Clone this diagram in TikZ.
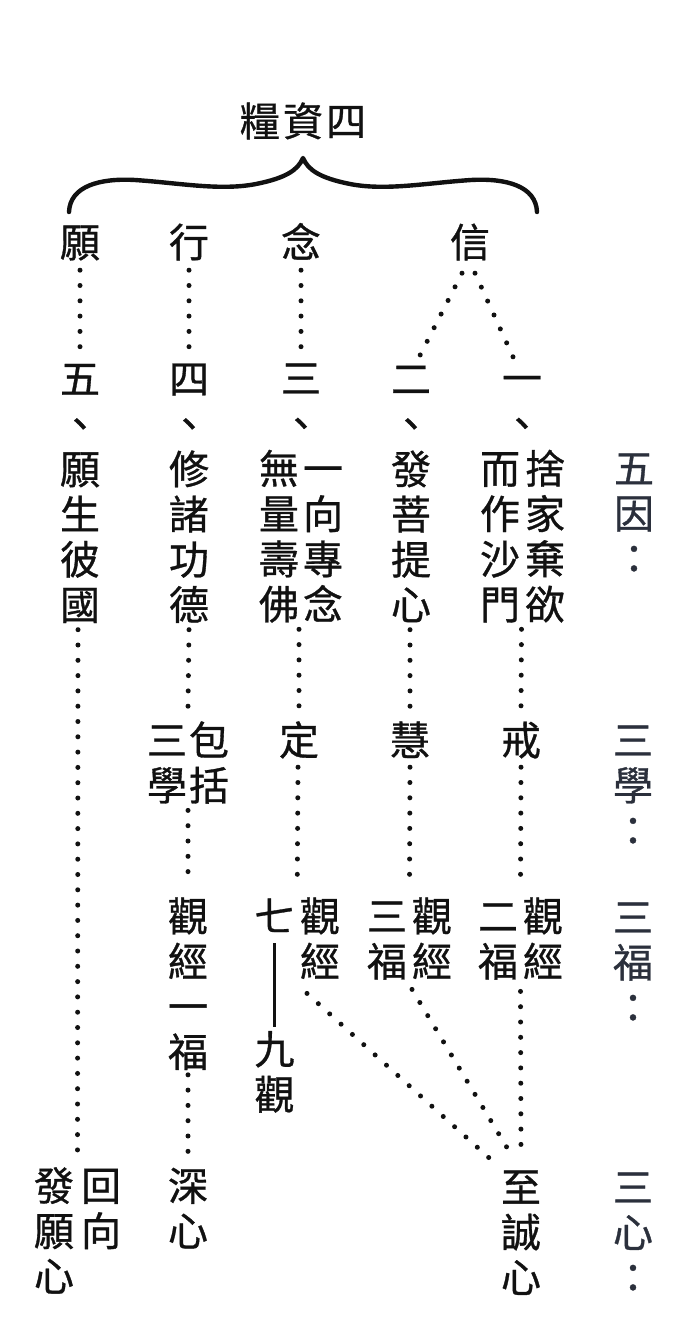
\documentclass[tikz,border=0pt]{standalone}
\usepackage{fontspec}
\newfontfamily\cjk{Noto Sans CJK TC}[FakeBold=0.8]
\usetikzlibrary{calc}
\newcommand\Sx{\rule[-0.12em]{0pt}{1em}}
\definecolor{ink}{HTML}{111111}
\definecolor{side}{HTML}{2B303C}
\tikzset{
  cjk/.style={font=\cjk\fontsize{40}{45.2}\selectfont, inner sep=0pt, align=center, text=ink},
  sidecol/.style={cjk, text=side},
  dotline/.style={draw=ink, line width=5pt, line cap=round, dash pattern=on 0pt off 15.3pt},
  dashline/.style={draw=ink, line width=2.2pt},
  bracestyle/.style={draw=ink, line width=4.4pt, line cap=round, line join=round}
}
\begin{document}
\begin{tikzpicture}[x=1pt,y=-1pt]
\fill[white] (0,0) rectangle (700,1340);
\useasboundingbox (0,0) rectangle (700,1340);

% title and brace
\node[cjk] (t) at (303,121) {\Sx 糧\hspace{3pt}資\hspace{3pt}四};
\draw[bracestyle] (69,212) .. controls (70,186) and (100,178) .. (135,180)
  .. controls (180,183) and (220,191) .. (256,184)
  .. controls (286,178) and (298,170) .. (303,158)
  .. controls (308,170) and (320,178) .. (350,184)
  .. controls (386,191) and (426,183) .. (471,180)
  .. controls (506,178) and (536,186) .. (537,212);

% top row
\node[cjk] (wA) at (80,242) {\Sx 願};
\node[cjk] (wB) at (189,242) {\Sx 行};
\node[cjk] (wC) at (301,242) {\Sx 念};
\node[cjk] (wD) at (470,242) {\Sx 信};

% five causes
\node[cjk] (cA) at (80,491.5) {\Sx 五\\\Sx 、\\\Sx 願\\\Sx 生\\\Sx 彼\\\Sx 國};
\node[cjk] (cB) at (189,491.5) {\Sx 四\\\Sx 、\\\Sx 修\\\Sx 諸\\\Sx 功\\\Sx 德};
\node[cjk] (cC) at (301,400.6) {\Sx 三\\\Sx 、};
\node[cjk] (cCr) at (323,536.3) {\Sx 一\\\Sx 向\\\Sx 專\\\Sx 念};
\node[cjk] (cCl) at (279,536.3) {\Sx 無\\\Sx 量\\\Sx 壽\\\Sx 佛};
\node[cjk] (cD) at (411,491.5) {\Sx 二\\\Sx 、\\\Sx 發\\\Sx 菩\\\Sx 提\\\Sx 心};
\node[cjk] (cE) at (522,400.6) {\Sx 一\\\Sx 、};
\node[cjk] (cEr) at (545,536.3) {\Sx 捨\\\Sx 家\\\Sx 棄\\\Sx 欲};
\node[cjk] (cEl) at (500,536.3) {\Sx 而\\\Sx 作\\\Sx 沙\\\Sx 門};
\node[sidecol] (rA) at (634,513.2) {\Sx 五\\\Sx 因\\\Sx ：};

% three learnings
\node[cjk] (sBl) at (167,762.6) {\Sx 三\\\Sx 學};
\node[cjk] (sBr) at (209,762.6) {\Sx 包\\\Sx 括};
\node[cjk] (sC) at (299,740) {\Sx 定};
\node[cjk] (sD) at (410,740) {\Sx 慧};
\node[cjk] (sE) at (521,740) {\Sx 戒};
\node[sidecol] (rB) at (633,785.2) {\Sx 三\\\Sx 學\\\Sx ：};

% three blessings
\node[cjk] (fB) at (188,983.8) {\Sx 觀\\\Sx 經\\\Sx 一\\\Sx 福};
\node[cjk] (fC7) at (274.5,916) {\Sx 七};
\node[cjk] (fCr) at (320,938.6) {\Sx 觀\\\Sx 經};
\node[cjk] (fC9) at (274.5,1071.6) {\Sx 九\\\Sx 觀};
\node[cjk] (fDl) at (387,938.6) {\Sx 三\\\Sx 福};
\node[cjk] (fDr) at (432,938.6) {\Sx 觀\\\Sx 經};
\node[cjk] (fEl) at (498,938.6) {\Sx 二\\\Sx 福};
\node[cjk] (fEr) at (543,938.6) {\Sx 觀\\\Sx 經};
\node[sidecol] (rC) at (633,962.2) {\Sx 三\\\Sx 福\\\Sx ：};

% three minds
\node[cjk] (hAr) at (101,1208.1) {\Sx 回\\\Sx 向};
\node[cjk] (hAl) at (54,1230.7) {\Sx 發\\\Sx 願\\\Sx 心};
\node[cjk] (hB) at (188,1208.1) {\Sx 深\\\Sx 心};
\node[cjk] (hE) at (521,1232) {\Sx 至\\\Sx 誠\\\Sx 心};
\node[sidecol] (rD) at (633,1232.2) {\Sx 三\\\Sx 心\\\Sx ：};

% dotted connectors: top
\draw[dotline] ($(wA.south)+(0,8)$) -- ($(cA.north)+(0,-11)$);
\draw[dotline] ($(wB.south)+(0,8)$) -- ($(cB.north)+(0,-11)$);
\draw[dotline] ($(wC.south)+(0,8)$) -- ($(cC.north)+(0,-11)$);
\draw[dotline] ($(wD.south)+(-8,11)$) -- ($(cD.north)+(8,-1)$);
\draw[dotline] ($(wD.south)+(5,11)$) -- ($(cE.north)+(-9,-1)$);

% column A
\draw[dotline] ($(cA.south)+(-2,5)$) -- ($($(hAl.north)!0.5!(hAr.north)$)+(0,-13)$);
% column B
\draw[dotline] ($(cB.south)+(0,5)$) -- ($($(sBl.north)!0.5!(sBr.north)$)+(0,-13)$);
\draw[dotline] ($($(sBl.south)!0.5!(sBr.south)$)+(0,5)$) -- ($(fB.north)+(0,-13)$);
\draw[dotline] ($(fB.south)+(0,3)$) -- ($(hB.north)+(0,-13)$);
% column C
\draw[dotline] ($($(cCl.south)!0.5!(cCr.south)$)+(-2,5)$) -- ($(sC.north)+(0,-13)$);
\draw[dotline] ($(sC.south)+(-1,7)$) -- ($($(fC7.north)!0.5!(fCr.north)$)+(0,-11)$);
\draw[dashline] ($(fC7.south)+(0,7)$) -- ($(fC9.north)+(0,-2)$);
\draw[dotline] ($(fCr.south)+(-13,12)$) -- ($(hE.north)+(-30,-7)$);
% column D
\draw[dotline] ($(cD.south)+(-1,5)$) -- ($(sD.north)+(0,-13)$);
\draw[dotline] ($(sD.south)+(0,7)$) -- ($($(fDl.north)!0.5!(fDr.north)$)+(0,-9)$);
\draw[dotline] ($(fDr.south)+(-20,8)$) -- ($(hE.north)+(-14,-19)$);
% column E
\draw[dotline] ($($(cEl.south)!0.5!(cEr.south)$)+(-1,5)$) -- ($(sE.north)+(0,-13)$);
\draw[dotline] ($(sE.south)+(0,7)$) -- ($($(fEl.north)!0.5!(fEr.north)$)+(0,-9)$);
\draw[dotline] ($($(fEl.south)!0.5!(fEr.south)$)+(0,10)$) -- ($(hE.north)+(0,-12)$);
\end{tikzpicture}
\end{document}
